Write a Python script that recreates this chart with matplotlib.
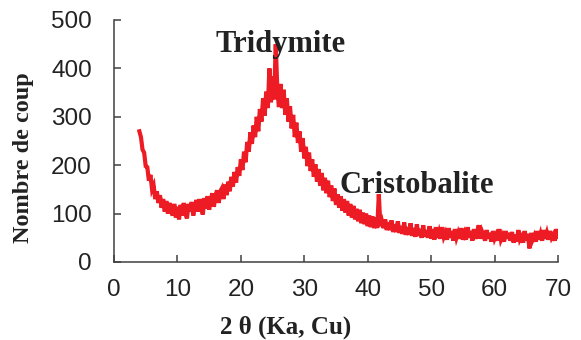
import numpy as np
import matplotlib
matplotlib.use("Agg")
import matplotlib.pyplot as plt

# 2-theta sampling (degrees) and counts
two_theta_start = 4.0
two_theta_step = 0.25
counts = [
    270,
    258, 232, 226, 198,
    196, 168, 180, 150,
    158, 130, 146, 122,
    138, 112, 130, 104,
    126, 100, 122, 106,
    96, 120, 92, 114,
    88, 118, 96, 122,
    100, 90, 120, 104,
    124, 96, 116, 128,
    104, 130, 112, 98,
    132, 110, 136, 108,
    128, 142, 114, 138,
    148, 122, 146, 152,
    130, 160, 138, 166,
    146, 176, 156, 186,
    164, 196, 178, 212,
    190, 228, 206, 248,
    228, 268, 244, 282,
    258, 300, 270, 316,
    290, 338, 302, 352,
    318, 400, 330, 384,
    336, 450, 356, 320,
    368, 318, 356, 304,
    338, 290, 322, 276,
    304, 258, 288, 246,
    270, 228, 256, 214,
    238, 198, 226, 188,
    212, 176, 202, 166,
    192, 158, 184, 148,
    174, 142, 168, 134,
    158, 126, 152, 118,
    140, 112, 136, 106,
    130, 102, 126, 96,
    120, 92, 116, 88,
    110, 84, 108, 80,
    102, 78, 100, 74,
    96, 72, 94, 70,
    92, 70, 140, 74,
    84, 70, 88, 66,
    82, 66, 86, 62,
    78, 62, 84, 60,
    74, 58, 82, 56,
    72, 56, 80, 54,
    70, 52, 78, 54,
    68, 50, 76, 52,
    66, 50, 74, 48,
    68, 46, 72, 50,
    62, 48, 72, 52,
    60, 46, 70, 50,
    64, 44, 68, 50,
    60, 48, 70, 46,
    58, 46, 72, 50,
    64, 44, 68, 48,
    60, 76, 48, 64,
    56, 44, 66, 48,
    60, 42, 64, 48,
    56, 44, 68, 46,
    54, 42, 64, 48,
    60, 44, 62, 40,
    56, 42, 66, 46,
    52, 40, 64, 44,
    58, 28, 60, 46,
    54, 42, 64, 46,
    58, 44, 66, 48,
    60, 46, 64, 50,
    56, 44, 68, 52,
]
two_theta = two_theta_start + two_theta_step * np.arange(len(counts))

x_ticks = [0, 10, 20, 30, 40, 50, 60, 70]
y_ticks = [0, 100, 200, 300, 400, 500]
peak_labels = ["Tridymite", "Cristobalite"]
peak_label_pos = [(16.0, 434), (35.6, 142)]

fig = plt.figure(figsize=(5.81, 3.40), dpi=100)
ax = fig.add_axes([114 / 581, 1 - 262 / 340, (558 - 114) / 581, (262 - 20) / 340])

ax.plot(two_theta, counts, color="#ED1C24", linewidth=3.0, solid_joinstyle="miter")

ax.set_xlim(0, 70)
ax.set_ylim(0, 500)
ax.set_xticks(x_ticks)
ax.set_yticks(y_ticks)

for s in ["top", "right"]:
    ax.spines[s].set_visible(False)
for s in ["left", "bottom"]:
    ax.spines[s].set_color("#404040")
    ax.spines[s].set_linewidth(1.1)

ax.tick_params(axis="both", direction="in", length=5, width=1.1, color="#404040",
               labelsize=17.5, labelcolor="#222222")
ax.tick_params(axis="x", pad=12)
ax.tick_params(axis="y", pad=16)
for lab in ax.get_xticklabels() + ax.get_yticklabels():
    lab.set_fontfamily(["Liberation Sans", "DejaVu Sans"])

serif = ["Liberation Serif", "DejaVu Serif"]
ax.set_xlabel("2 θ (Ka, Cu)", fontsize=18, fontweight="bold", family=serif,
              color="#222222", ha="center", va="center")
ax.xaxis.set_label_coords(0.387, -0.27)
ax.set_ylabel("Nombre de coup", fontsize=17.5, fontweight="bold", family=serif,
              color="#222222", ha="center", va="center")
ax.yaxis.set_label_coords(-0.203, 0.43)

for txt, (px, py) in zip(peak_labels, peak_label_pos):
    ax.text(px, py, txt, fontsize=22, fontweight="bold", family=serif,
            color="#222222", ha="left", va="baseline", zorder=5)

fig.savefig("out.png", dpi=100)
